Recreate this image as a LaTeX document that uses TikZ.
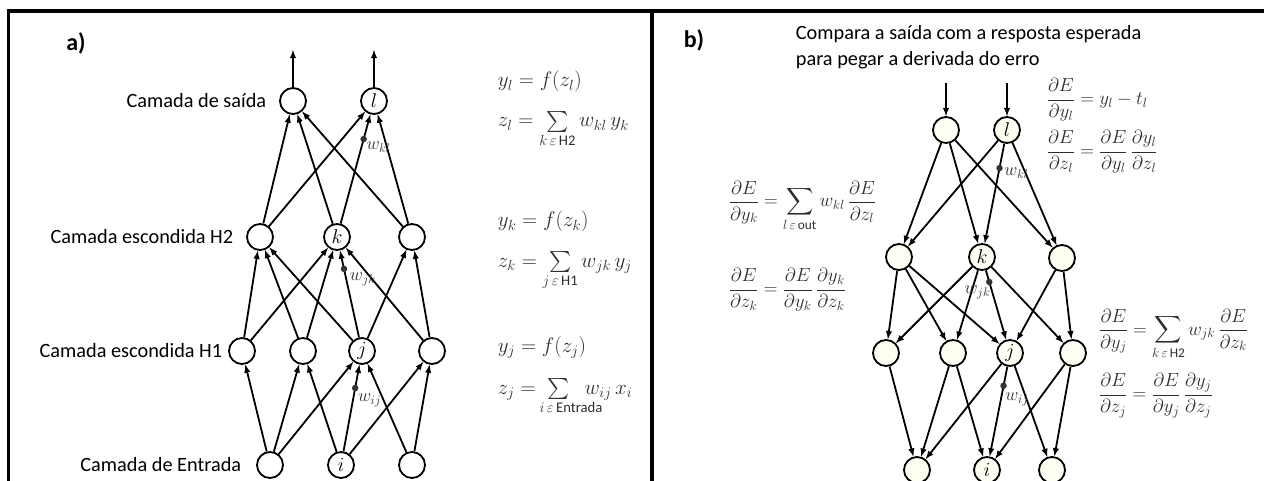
\documentclass[tikz,border=0pt]{standalone}
\usepackage{fix-cm}
\usepackage{amsmath, amssymb, mathtools}
\usepackage{fontspec}
\setmainfont{Carlito}
\usetikzlibrary{arrows,positioning,calc}

\definecolor{cream}{HTML}{FFFEF2}
\definecolor{eqgray}{HTML}{2E2E2E}

\begin{document}
\begin{tikzpicture}[x=1pt, y=-1pt, line width=1.8pt]
    \tikzstyle{unit} = [circle, draw, fill=white, minimum size=26pt, inner sep=0pt, font=\fontsize{20}{20}\selectfont]
    \tikzstyle{bunit} = [unit, fill=cream]
    \tikzstyle{lbl} = [font=\fontsize{20.3}{22}\selectfont, inner sep=0pt]
    \tikzstyle{eq} = [font=\fontsize{21}{23}\selectfont, text=eqgray, inner sep=0pt, anchor=base west]
    \tikzstyle{deq} = [font=\fontsize{19}{22}\selectfont, text=eqgray, inner sep=0pt, anchor=base west]
    \tikzstyle{wdot} = [circle, fill=black!80, draw=none, inner sep=0pt, minimum size=6.5pt]
    \tikzstyle{wlbl} = [font=\fontsize{18}{18}\selectfont, text=eqgray, inner sep=0pt]
    \tikzstyle{tag} = [font=\fontsize{24}{24}\selectfont\bfseries, inner sep=0pt]

    \useasboundingbox (0,0) rectangle (1264,481);

    % frame
    \draw[line width=3.5pt] (8.5,481) |- (1264,11);
    \draw[line width=3.5pt] (652,11) -- (652,481);

    % a) forward pass
    \node[tag] (tagA) at (76,43) {a)};

    \node[unit] (outA) at (293,101) {};
    \node[unit] (outL) at (374,101) {$l$};
    \node[unit] (hA) at (260,237) {};
    \node[unit] (hK) at (337,237) {$k$};
    \node[unit] (hC) at (412,237) {};
    \node[unit] (gA) at (242,351) {};
    \node[unit] (gB) at (303,351) {};
    \node[unit] (gJ) at (362,351) {$j$};
    \node[unit] (gD) at (432,351) {};
    \node[unit] (inA) at (270,465) {};
    \node[unit] (inI) at (341,465) {$i$};
    \node[unit] (inC) at (412,465) {};

    \node[lbl, left=12pt of outA] (saida) {Camada de saída};
    \node[lbl, left=12pt of hA] (escH2) {Camada escondida H2};
    \node[lbl, left=5pt of gA] (escH1) {Camada escondida H1};
    \node[lbl, left=14pt of inA] (entrada) {Camada de Entrada};

    \coordinate (upA) at (293,50);
    \coordinate (upL) at (374,50);
    \path [draw, -latex] (outA) -- (upA);
    \path [draw, -latex] (outL) -- (upL);

    \foreach \a/\b in {inA/gA, inA/gB, inA/gJ, inI/gB, inI/gJ, inI/gD, inC/gJ, inC/gD,
                       gA/hA, gA/hK, gB/hA, gB/hK, gJ/hA, gJ/hK, gJ/hC, gD/hK, gD/hC,
                       hA/outA, hA/outL, hK/outA, hK/outL, hC/outA, hC/outL}
        \path [draw, -latex] (\a) -- (\b);

    \node[wdot] (dKL) at ($(hK)!0.72!(outL)$) {};
    \node[wlbl, anchor=north west] (wKL) at ($(dKL)+(2,2)$) {$w_{kl}$};
    \node[wdot] (dJK) at ($(gJ)!0.72!(hK)$) {};
    \node[wlbl, anchor=north west] (wJK) at ($(dJK)+(5,3)$) {$w_{jk}$};
    \node[wdot] (dIJ) at ($(inI)!0.675!(gJ)$) {};
    \node[wlbl, anchor=north west] (wIJ) at ($(dIJ)+(2,5)$) {$w_{ij}$};

    \node[eq] (eqYl) at (497,87) {$y_l = f(z_l)$};
    \node[eq] (eqZl) at (497,127) {$z_l = \sum\limits_{k\,\varepsilon\,\text{H2}} w_{kl}\,y_k$};
    \node[eq] (eqYk) at (497,227) {$y_k = f(z_k)$};
    \node[eq] (eqZk) at (497,267) {$z_k = \sum\limits_{j\,\varepsilon\,\text{H1}} w_{jk}\,y_j$};
    \node[eq] (eqYj) at (497,352) {$y_j = f(z_j)$};
    \node[eq] (eqZj) at (497,394) {$z_j = \;\sum\limits_{\mathclap{\hspace{1.2em}i\,\varepsilon\,\text{Entrada}}}\;\; w_{ij}\,x_i$};

    % b) backward pass
    \node[tag] (tagB) at (694,40) {b)};
    \node[lbl, anchor=base west] (compara) at (795,40) {Compara a saída com a resposta esperada};
    \node[lbl, anchor=base west] (pegar) at (795,66) {para pegar a derivada do erro};

    \node[bunit] (rOutA) at (946,130) {};
    \node[bunit] (rOutL) at (1007,130) {$l$};
    \node[bunit] (rhA) at (899,257) {};
    \node[bunit] (rhK) at (982,257) {$k$};
    \node[bunit] (rhC) at (1062,258) {};
    \node[bunit] (rgA) at (886,353) {};
    \node[bunit] (rgB) at (953,353) {};
    \node[bunit] (rgJ) at (1010,353) {$j$};
    \node[bunit] (rgD) at (1073,353) {};
    \node[bunit] (rinA) at (917,470) {};
    \node[bunit] (rinI) at (987,470) {$i$};
    \node[bunit] (rinC) at (1052,470) {};

    \coordinate (downA) at (946,83);
    \coordinate (downL) at (1007,83);
    \path [draw, -latex] (downA) -- (rOutA);
    \path [draw, -latex] (downL) -- (rOutL);

    \foreach \a/\b in {rOutA/rhA, rOutA/rhK, rOutA/rhC, rOutL/rhA, rOutL/rhK, rOutL/rhC,
                       rhA/rgA, rhA/rgB, rhA/rgJ, rhK/rgA, rhK/rgB, rhK/rgJ, rhK/rgD, rhC/rgJ, rhC/rgD,
                       rgA/rinA, rgB/rinA, rgB/rinI, rgJ/rinA, rgJ/rinI, rgJ/rinC, rgD/rinI, rgD/rinC}
        \path [draw, -latex] (\a) -- (\b);

    \node[wdot] (rdKL) at ($(rOutL)!0.30!(rhK)$) {};
    \node[wlbl, anchor=west] (rwKL) at ($(rdKL)+(4,5)$) {$w_{kl}$};
    \node[wdot] (rdJK) at ($(rhK)!0.26!(rgJ)$) {};
    \node[wlbl, anchor=north east] (rwJK) at ($(rdJK)+(2,3)$) {$w_{jk}$};
    \node[wdot] (rdIJ) at ($(rgJ)!0.28!(rinI)$) {};
    \node[wlbl, anchor=north west] (rwIJ) at ($(rdIJ)+(1,6)$) {$w_{ij}$};

    \node[deq, anchor=west] (eqEyl) at (1046,100) {$\dfrac{\partial E}{\partial y_l} = y_l - t_l$};
    \node[deq, anchor=west] (eqEzl) at (1046,152) {$\dfrac{\partial E}{\partial z_l} = \dfrac{\partial E}{\partial y_l}\,\dfrac{\partial y_l}{\partial z_l}$};
    \node[deq] (eqEyk) at (728,207) {$\dfrac{\partial E}{\partial y_k} = \displaystyle\sum_{l\,\varepsilon\,\text{out}} w_{kl}\,\dfrac{\partial E}{\partial z_l}$};
    \node[deq, anchor=west] (eqEzk) at (728,290) {$\dfrac{\partial E}{\partial z_k} = \dfrac{\partial E}{\partial y_k}\,\dfrac{\partial y_k}{\partial z_k}$};
    \node[deq] (eqEyj) at (1098,335) {$\dfrac{\partial E}{\partial y_j} = \displaystyle\sum_{k\,\varepsilon\,\text{H2}} w_{jk}\,\dfrac{\partial E}{\partial z_k}$};
    \node[deq, anchor=west] (eqEzj) at (1098,396) {$\dfrac{\partial E}{\partial z_j} = \dfrac{\partial E}{\partial y_j}\,\dfrac{\partial y_j}{\partial z_j}$};
\end{tikzpicture}
\end{document}
